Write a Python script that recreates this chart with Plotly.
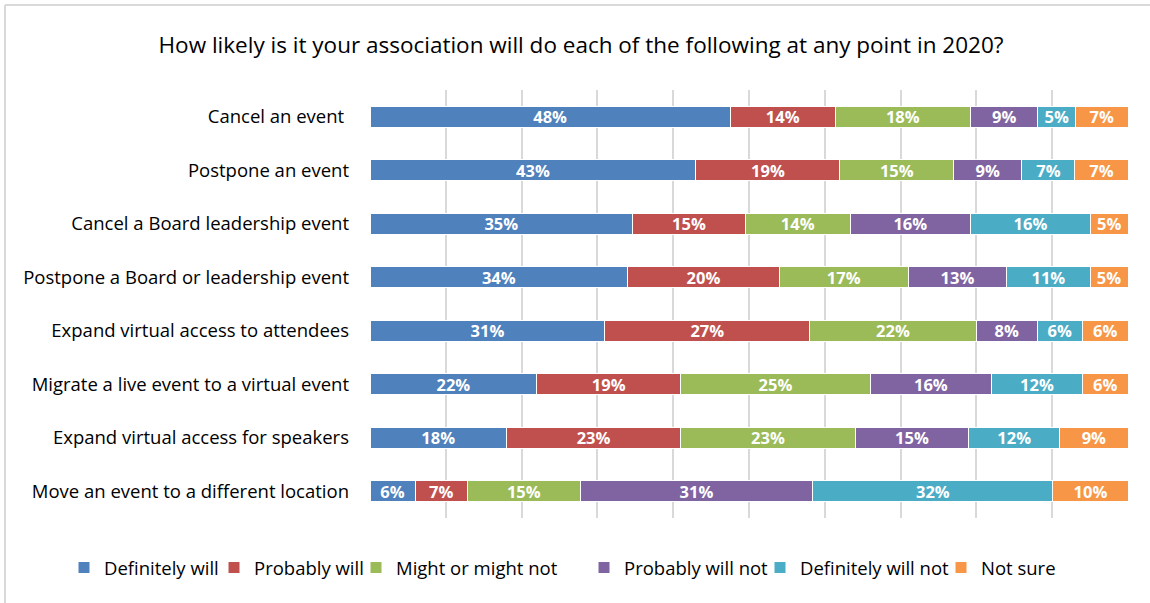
import plotly.graph_objects as go

categories = [
    "Cancel an event ",
    "Postpone an event",
    "Cancel a Board leadership event",
    "Postpone a Board or leadership event",
    "Expand virtual access to attendees",
    "Migrate a live event to a virtual event",
    "Expand virtual access for speakers",
    "Move an event to a different location",
]
series_names = ["Definitely will", "Probably will", "Might or might not",
                "Probably will not", "Definitely will not", "Not sure"]
definitely_will = [48, 43, 35, 34, 31, 22, 18, 6]
probably_will = [14, 19, 15, 20, 27, 19, 23, 7]
might_or_might_not = [18, 15, 14, 17, 22, 25, 23, 15]
probably_will_not = [9, 9, 16, 13, 8, 16, 15, 31]
definitely_will_not = [5, 7, 16, 11, 6, 12, 12, 32]
not_sure = [7, 7, 5, 5, 6, 6, 9, 10]
series_values = [definitely_will, probably_will, might_or_might_not,
                 probably_will_not, definitely_will_not, not_sure]
colors = ["#4F81BD", "#C0504D", "#9BBB59", "#8064A2", "#4BACC6", "#F79646"]
# left pixel where each legend entry's text starts (layout only)
legend_text_x = [103, 253, 395, 623, 799, 980]

FONT = "Open Sans"
W, H = 1150, 603

fig = go.Figure()
legend_layouts = {}
for i, (name, vals, col) in enumerate(zip(series_names, series_values, colors)):
    lname = "legend" if i == 0 else f"legend{i + 1}"
    fig.add_trace(go.Bar(
        y=categories, x=vals, name=name, orientation="h",
        marker=dict(color=col, line=dict(color="white", width=1)),
        text=[f"{v}%" for v in vals], textposition="inside",
        insidetextanchor="middle", constraintext="none",
        textfont=dict(family=FONT, size=16.5, color="white", weight="bold"),
        hoverinfo="x+y+name", legend=lname, showlegend=True,
    ))
    legend_layouts[lname] = dict(
        orientation="h", x=(legend_text_x[i] - 39) / W, xref="container", xanchor="left",
        y=1 - 568 / H, yref="container", yanchor="middle",
        font=dict(family=FONT, size=18.5, color="#000000"),
        itemwidth=30, bgcolor="rgba(0,0,0,0)", borderwidth=0, visible=True,
    )

fig.update_layout(
    showlegend=True,
    barmode="stack", barnorm="percent", bargap=0.61,
    width=W, height=H,
    margin=dict(l=370, r=22, t=90, b=85),
    paper_bgcolor="white", plot_bgcolor="white",
    font=dict(family=FONT, color="#000000"),
    title=dict(text="How likely is it your association will do each of the following at any point in 2020?",
               x=581 / W, xref="container", xanchor="center", y=1 - 45 / H, yanchor="middle",
               font=dict(family=FONT, size=22.5, color="#000000")),
    xaxis=dict(range=[0, 100], dtick=10, showticklabels=False, showgrid=True,
               gridcolor="#d9d9d9", gridwidth=1.5, zeroline=False, showline=False,
               fixedrange=True),
    yaxis=dict(autorange="reversed", ticks="", ticklabelstandoff=20,
               tickfont=dict(family=FONT, size=18.5, color="#000000"),
               showgrid=False, showline=False),
    shapes=[
        dict(type="line", xref="paper", yref="paper",
             x0=(5 - 370) / 758, x1=(5 - 370) / 758,
             y0=(518 - 5) / 428, y1=(518 - 603) / 428,
             line=dict(color="#d9d9d9", width=2)),
        dict(type="line", xref="paper", yref="paper",
             x0=(5 - 370) / 758, x1=(1150 - 370) / 758,
             y0=(518 - 5) / 428, y1=(518 - 5) / 428,
             line=dict(color="#d9d9d9", width=2)),
    ],
    **legend_layouts,
)

fig.write_html("out.html", config={"displayModeBar": False},
               post_script="document.body.style.margin='0';document.body.style.padding='0';")
